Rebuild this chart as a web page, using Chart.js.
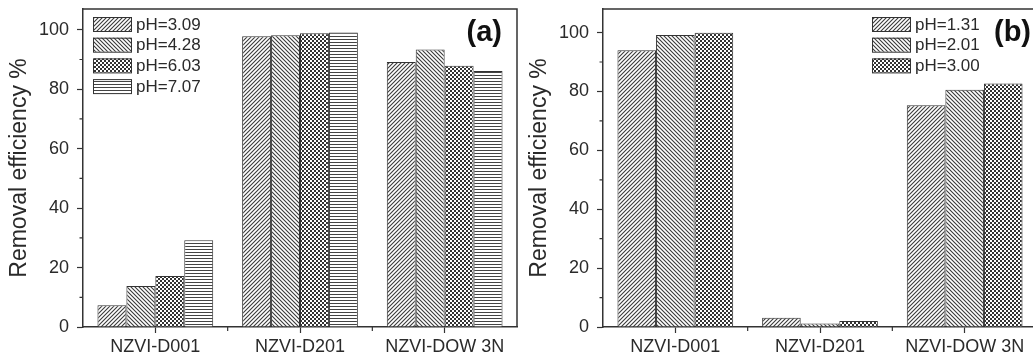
<!DOCTYPE html>
<html>
<head>
<meta charset="utf-8">
<script src="https://cdn.jsdelivr.net/npm/chart.js@4"></script>
<style>
  body { margin: 0; background: #fff; }
  #wrap { position: relative; width: 1033px; height: 363px; overflow: hidden; }
  canvas { position: absolute; top: 0; }
</style>
</head>
<body>
<div id="wrap">
  <canvas id="chartA" width="520" height="363" style="left:0"></canvas>
  <canvas id="chartB" width="520" height="363" style="left:520px"></canvas>
</div>
<script>
// data
var categories = ['NZVI-D001', 'NZVI-D201', 'NZVI-DOW 3N'];
var yTicks = [0, 20, 40, 60, 80, 100];
var yMinor = [10, 30, 50, 70, 90];

// panel (a)
var labelsA = ['pH=3.09', 'pH=4.28', 'pH=6.03', 'pH=7.07'];
var ph309 = [7.3, 97.8, 89.2];
var ph428 = [13.8, 98.2, 93.4];
var ph603 = [17.2, 98.8, 87.9];
var ph707 = [29.2, 99.1, 86.1];

// panel (b)
var labelsB = ['pH=1.31', 'pH=2.01', 'pH=3.00'];
var ph131 = [94.0, 3.1, 75.3];
var ph201 = [99.2, 1.2, 80.6];
var ph300 = [99.9, 2.0, 82.7];

var FONT = "'Liberation Sans', Arial, sans-serif";
var INK = '#2a2a2a';

// fill patterns for the bars
function makePattern(kind) {
  var c = document.createElement('canvas');
  var g = c.getContext('2d');
  if (kind == 'horiz') {
    c.width = 1; c.height = 3;
    g.fillStyle = '#fff'; g.fillRect(0, 0, 1, 3);
    g.fillStyle = '#444'; g.fillRect(0, 0, 1, 1);
  } else if (kind == 'check') {
    c.width = 4; c.height = 4;
    g.fillStyle = '#fff'; g.fillRect(0, 0, 4, 4);
    g.fillStyle = '#333';
    g.fillRect(0, 0, 2, 2); g.fillRect(2, 2, 2, 2);
  } else {
    c.width = 4; c.height = 4;
    g.fillStyle = '#fff'; g.fillRect(0, 0, 4, 4);
    g.strokeStyle = '#3a3a3a'; g.lineWidth = 1.1;
    g.beginPath();
    if (kind == 'up') {
      g.moveTo(-1, 5); g.lineTo(5, -1);
      g.moveTo(-1, 1); g.lineTo(1, -1);
      g.moveTo(3, 5); g.lineTo(5, 3);
    } else {
      g.moveTo(-1, -1); g.lineTo(5, 5);
      g.moveTo(3, -1); g.lineTo(5, 1);
      g.moveTo(-1, 3); g.lineTo(1, 5);
    }
    g.stroke();
  }
  return g.createPattern(c, 'repeat');
}

var pats = {
  up: makePattern('up'),
  down: makePattern('down'),
  check: makePattern('check'),
  horiz: makePattern('horiz')
};

function ds(label, data, pat) {
  return {
    label: label, data: data, backgroundColor: pat,
    borderColor: '#333', borderWidth: 1,
    categoryPercentage: 0.8, barPercentage: 1.0
  };
}

// frame, minor ticks, legend and panel letter
var decor = {
  id: 'decor',
  afterDraw: function(chart, args, opts) {
    var ctx = chart.ctx, a = chart.chartArea;
    var y = chart.scales.y;
    ctx.save();
    ctx.strokeStyle = '#333';
    ctx.lineWidth = 1.5;
    ctx.beginPath();
    ctx.moveTo(a.left, a.top); ctx.lineTo(a.right, a.top);
    ctx.lineTo(a.right, a.bottom);
    ctx.stroke();

    ctx.lineWidth = 1.2;
    ctx.beginPath();
    yMinor.forEach(function(v) {
      var py = y.getPixelForValue(v);
      ctx.moveTo(a.left - 3.5, py); ctx.lineTo(a.left, py);
    });
    var w = (a.right - a.left) / categories.length;
    for (var i = 1; i < categories.length; i++) {
      var px = a.left + i * w;
      ctx.moveTo(px, a.bottom); ctx.lineTo(px, a.bottom + 4);
    }
    ctx.stroke();

    // legend
    ctx.font = '17px ' + FONT;
    ctx.textBaseline = 'middle';
    ctx.textAlign = 'left';
    chart.data.datasets.forEach(function(d, k) {
      var top = opts.legendY + k * 20.7;
      ctx.fillStyle = d.backgroundColor;
      ctx.fillRect(opts.legendX, top, 38, 14);
      ctx.lineWidth = 1;
      ctx.strokeStyle = '#333';
      ctx.strokeRect(opts.legendX + 0.5, top + 0.5, 38, 14);
      ctx.fillStyle = INK;
      ctx.fillText(d.label, opts.legendX + 43, top + 8);
    });

    ctx.font = 'bold 29px ' + FONT;
    ctx.textAlign = 'right';
    ctx.textBaseline = 'alphabetic';
    ctx.fillStyle = '#111';
    ctx.fillText(opts.letter, opts.letterX, 41);
    ctx.restore();
  }
};

function makeChart(id, datasets, yMax, legendX, letter, letterX) {
  return new Chart(document.getElementById(id), {
    type: 'bar',
    data: { labels: categories, datasets: datasets },
    plugins: [decor],
    options: {
      responsive: false,
      animation: false,
      devicePixelRatio: 1,
      layout: { padding: { top: 9, right: 3, left: 0, bottom: 0 } },
      plugins: {
        legend: { display: false },
        tooltip: { enabled: false },
        decor: { legendX: legendX, legendY: 17, letter: letter, letterX: letterX }
      },
      scales: {
        x: {
          afterFit: function(s) { s.height = 36; s.paddingLeft = 0; s.paddingRight = 0; },
          grid: { display: true, drawOnChartArea: false, offset: false, tickLength: 6, tickColor: '#333', tickWidth: 1.2 },
          border: { display: true, color: '#333', width: 1.5 },
          ticks: { color: INK, font: { family: FONT, size: 18 }, padding: 3 }
        },
        y: {
          min: 0, max: yMax,
          afterFit: function(s) { s.width = 83; s.paddingTop = 0; s.paddingBottom = 0; },
          afterBuildTicks: function(s) { s.ticks = yTicks.map(function(v) { return { value: v }; }); },
          grid: { display: true, drawOnChartArea: false, tickLength: 6, tickColor: '#333', tickWidth: 1.2 },
          border: { display: true, color: '#333', width: 1.5 },
          ticks: { color: INK, font: { family: FONT, size: 18 }, padding: 8 },
          title: {
            display: true, text: 'Removal efficiency %', color: INK,
            font: { family: FONT, size: 23 }, padding: { top: 6, bottom: 0 }
          }
        }
      }
    }
  });
}

makeChart('chartA', [
  ds(labelsA[0], ph309, pats.up),
  ds(labelsA[1], ph428, pats.down),
  ds(labelsA[2], ph603, pats.check),
  ds(labelsA[3], ph707, pats.horiz)
], 107, 93, '(a)', 502);

makeChart('chartB', [
  ds(labelsB[0], ph131, pats.up),
  ds(labelsB[1], ph201, pats.down),
  ds(labelsB[2], ph300, pats.check)
], 108, 352, '(b)', 511);
</script>
</body>
</html>
